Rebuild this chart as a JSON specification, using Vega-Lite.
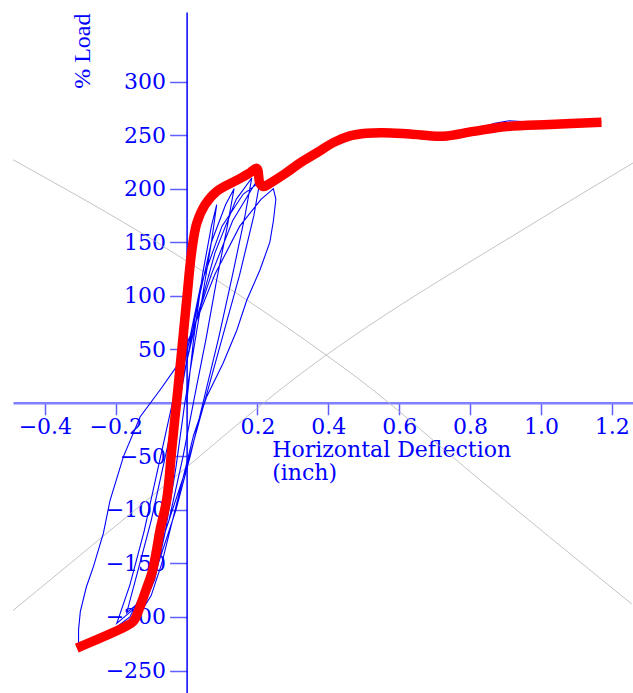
{
  "$schema": "https://vega.github.io/schema/vega-lite/v6.json",
  "width": 620,
  "height": 681,
  "autosize": {"type": "none"},
  "padding": {"left": 13, "top": 12, "right": 0, "bottom": 0},
  "background": "white",
  "config": {
    "view": {"stroke": null},
    "axis": {"grid": false}
  },
  "datasets": {
    "grey": [
      {"g": "a", "x": -0.49, "y": 227},
      {"g": "a", "x": -0.075, "y": 148},
      {"g": "a", "x": 0.32, "y": 62},
      {"g": "a", "x": 0.489, "y": 21.5},
      {"g": "a", "x": 0.828, "y": -72},
      {"g": "a", "x": 1.257, "y": -188},
      {"g": "b", "x": -0.49, "y": -194},
      {"g": "b", "x": -0.061, "y": -77},
      {"g": "b", "x": 0.3, "y": 21.5},
      {"g": "b", "x": 1.005, "y": 173},
      {"g": "b", "x": 1.26, "y": 224}
    ],
    "blue": [
      {"o": 1, "x": 0, "y": 0},
      {"o": 2, "x": 0.02, "y": 60},
      {"o": 3, "x": 0.045, "y": 120},
      {"o": 4, "x": 0.07, "y": 165},
      {"o": 5, "x": 0.085, "y": 185},
      {"o": 6, "x": 0.07, "y": 150},
      {"o": 7, "x": 0.045, "y": 100},
      {"o": 8, "x": 0.02, "y": 50},
      {"o": 9, "x": -0.005, "y": 0},
      {"o": 10, "x": -0.03, "y": -60},
      {"o": 11, "x": -0.06, "y": -120},
      {"o": 12, "x": -0.09, "y": -165},
      {"o": 13, "x": -0.112, "y": -182},
      {"o": 14, "x": -0.09, "y": -140},
      {"o": 15, "x": -0.065, "y": -90},
      {"o": 16, "x": -0.04, "y": -40},
      {"o": 17, "x": -0.01, "y": 20},
      {"o": 18, "x": 0.03, "y": 90},
      {"o": 19, "x": 0.07, "y": 150},
      {"o": 20, "x": 0.11, "y": 185},
      {"o": 21, "x": 0.134, "y": 200},
      {"o": 22, "x": 0.115, "y": 165},
      {"o": 23, "x": 0.085, "y": 115},
      {"o": 24, "x": 0.055, "y": 60},
      {"o": 25, "x": 0.025, "y": 10},
      {"o": 26, "x": -0.01, "y": -50},
      {"o": 27, "x": -0.05, "y": -110},
      {"o": 28, "x": -0.1, "y": -160},
      {"o": 29, "x": -0.14, "y": -188},
      {"o": 30, "x": -0.169, "y": -196},
      {"o": 31, "x": -0.14, "y": -160},
      {"o": 32, "x": -0.1, "y": -110},
      {"o": 33, "x": -0.06, "y": -50},
      {"o": 34, "x": -0.02, "y": 10},
      {"o": 35, "x": 0.03, "y": 80},
      {"o": 36, "x": 0.08, "y": 140},
      {"o": 37, "x": 0.14, "y": 190},
      {"o": 38, "x": 0.184, "y": 210},
      {"o": 39, "x": 0.165, "y": 175},
      {"o": 40, "x": 0.13, "y": 120},
      {"o": 41, "x": 0.09, "y": 60},
      {"o": 42, "x": 0.05, "y": 5},
      {"o": 43, "x": 0.01, "y": -50},
      {"o": 44, "x": -0.03, "y": -100},
      {"o": 45, "x": -0.08, "y": -150},
      {"o": 46, "x": -0.14, "y": -190},
      {"o": 47, "x": -0.197, "y": -206},
      {"o": 48, "x": -0.16, "y": -170},
      {"o": 49, "x": -0.12, "y": -120},
      {"o": 50, "x": -0.08, "y": -60},
      {"o": 51, "x": -0.04, "y": 0},
      {"o": 52, "x": 0.01, "y": 60},
      {"o": 53, "x": 0.07, "y": 120},
      {"o": 54, "x": 0.13, "y": 170},
      {"o": 55, "x": 0.19, "y": 203},
      {"o": 56, "x": 0.21, "y": 213},
      {"o": 57, "x": 0.19, "y": 175},
      {"o": 58, "x": 0.15, "y": 120},
      {"o": 59, "x": 0.1, "y": 60},
      {"o": 60, "x": 0.05, "y": 0},
      {"o": 61, "x": 0, "y": -60},
      {"o": 62, "x": -0.05, "y": -110},
      {"o": 63, "x": -0.1, "y": -160},
      {"o": 64, "x": -0.16, "y": -200},
      {"o": 65, "x": -0.24, "y": -220},
      {"o": 66, "x": -0.305, "y": -225},
      {"o": 67, "x": -0.305, "y": -212},
      {"o": 68, "x": -0.3, "y": -195},
      {"o": 69, "x": -0.283, "y": -172},
      {"o": 70, "x": -0.263, "y": -153},
      {"o": 71, "x": -0.235, "y": -122},
      {"o": 72, "x": -0.216, "y": -91},
      {"o": 73, "x": -0.178, "y": -50},
      {"o": 74, "x": -0.131, "y": -13},
      {"o": 75, "x": -0.075, "y": 12},
      {"o": 76, "x": -0.028, "y": 34},
      {"o": 77, "x": 0.02, "y": 70},
      {"o": 78, "x": 0.08, "y": 120},
      {"o": 79, "x": 0.15, "y": 165},
      {"o": 80, "x": 0.21, "y": 190},
      {"o": 81, "x": 0.245, "y": 200},
      {"o": 82, "x": 0.252, "y": 190},
      {"o": 83, "x": 0.245, "y": 170},
      {"o": 84, "x": 0.235, "y": 150},
      {"o": 85, "x": 0.207, "y": 124},
      {"o": 86, "x": 0.17, "y": 96},
      {"o": 87, "x": 0.142, "y": 68},
      {"o": 88, "x": 0.103, "y": 37},
      {"o": 89, "x": 0.057, "y": 6},
      {"o": 90, "x": 0.02, "y": -30},
      {"o": 91, "x": -0.01, "y": -70},
      {"o": 92, "x": -0.04, "y": -110},
      {"o": 93, "x": -0.07, "y": -150},
      {"o": 94, "x": -0.1, "y": -180},
      {"o": 95, "x": -0.13, "y": -196},
      {"o": 96, "x": -0.1, "y": -150},
      {"o": 97, "x": -0.07, "y": -100},
      {"o": 98, "x": -0.04, "y": -40},
      {"o": 99, "x": -0.01, "y": 30},
      {"o": 100, "x": 0.04, "y": 110},
      {"o": 101, "x": 0.1, "y": 165},
      {"o": 102, "x": 0.16, "y": 195},
      {"o": 103, "x": 0.21, "y": 207},
      {"o": 104, "x": 0.24, "y": 206},
      {"o": 105, "x": 0.32, "y": 224},
      {"o": 106, "x": 0.367, "y": 233.4},
      {"o": 107, "x": 0.414, "y": 243.3},
      {"o": 108, "x": 0.461, "y": 249.5},
      {"o": 109, "x": 0.508, "y": 252},
      {"o": 110, "x": 0.555, "y": 252.3},
      {"o": 111, "x": 0.63, "y": 251},
      {"o": 112, "x": 0.724, "y": 249},
      {"o": 113, "x": 0.81, "y": 254},
      {"o": 114, "x": 0.87, "y": 261},
      {"o": 115, "x": 0.91, "y": 263.5},
      {"o": 116, "x": 0.96, "y": 262.5},
      {"o": 117, "x": 1.025, "y": 260.5},
      {"o": 118, "x": 1.171, "y": 262}
    ],
    "red": [
      {"x": -0.31, "y": -229},
      {"x": -0.173, "y": -209},
      {"x": -0.15, "y": -204},
      {"x": -0.131, "y": -190},
      {"x": -0.115, "y": -175},
      {"x": -0.098, "y": -159},
      {"x": -0.085, "y": -138},
      {"x": -0.075, "y": -119},
      {"x": -0.056, "y": -90},
      {"x": -0.041, "y": -40},
      {"x": -0.0254, "y": 10},
      {"x": -0.0104, "y": 60},
      {"x": 0.0014, "y": 100},
      {"x": 0.015, "y": 143},
      {"x": 0.029, "y": 168},
      {"x": 0.052, "y": 185},
      {"x": 0.085, "y": 197.5},
      {"x": 0.142, "y": 208},
      {"x": 0.175, "y": 214},
      {"x": 0.198, "y": 219},
      {"x": 0.207, "y": 205},
      {"x": 0.217, "y": 202},
      {"x": 0.235, "y": 205},
      {"x": 0.28, "y": 214.5},
      {"x": 0.32, "y": 224},
      {"x": 0.367, "y": 233.4},
      {"x": 0.414, "y": 243},
      {"x": 0.461, "y": 249.3},
      {"x": 0.508, "y": 251.8},
      {"x": 0.555, "y": 252.3},
      {"x": 0.63, "y": 251},
      {"x": 0.724, "y": 249},
      {"x": 0.81, "y": 253.5},
      {"x": 0.903, "y": 258},
      {"x": 1.025, "y": 260},
      {"x": 1.171, "y": 262}
    ]
  },
  "layer": [
    {
      "data": {"name": "grey"},
      "mark": {"type": "line", "color": "#b4b4b4", "strokeWidth": 0.8, "interpolate": "monotone"},
      "encoding": {
        "x": {
          "field": "x", "type": "quantitative",
          "scale": {"domain": [-0.49, 1.26], "nice": false, "zero": false},
          "axis": {
            "orient": "bottom",
            "offset": -290.2,
            "values": [-0.4, -0.2, 0.2, 0.4, 0.6, 0.8, 1.0, 1.2],
            "format": ".1f",
            "domainColor": "#7f7fff",
            "domainWidth": 2.5,
            "tickColor": "#5c5cff",
            "tickWidth": 1.5,
            "tickSize": 12,
            "labelFont": "DejaVu Serif",
            "labelFontSize": 22,
            "labelColor": "#0000ff",
            "labelPadding": 2,
            "labelFlush": false,
            "labelOverlap": false,
            "title": ["Horizontal Deflection", "(inch)"],
            "titleFont": "DejaVu Serif",
            "titleFontSize": 22,
            "titleFontWeight": "normal",
            "titleColor": "#0000ff",
            "titleAlign": "left",
            "titleAnchor": "start",
            "titleBaseline": "alphabetic",
            "titleX": 258.7,
            "titleY": 54,
            "titleLineHeight": 23
          }
        },
        "y": {
          "field": "y", "type": "quantitative",
          "scale": {"domain": [-271, 365], "nice": false, "zero": false},
          "axis": {
            "orient": "left",
            "offset": -173.6,
            "values": [-250, -200, -150, -100, -50, 50, 100, 150, 200, 250, 300],
            "format": "d",
            "domainColor": "#0000ff",
            "domainWidth": 1.5,
            "tickColor": "#6060ff",
            "tickWidth": 1.5,
            "tickSize": 17,
            "labelFont": "DejaVu Serif",
            "labelFontSize": 22,
            "labelColor": "#0000ff",
            "labelPadding": 4,
            "labelFlush": false,
            "labelOverlap": false,
            "title": "% Load",
            "titleFont": "Liberation Serif",
            "titleFontSize": 24,
            "titleFontWeight": "normal",
            "titleColor": "#0000ff",
            "titleAngle": 270,
            "titleAlign": "right",
            "titleAnchor": "end",
            "titleBaseline": "alphabetic",
            "titleX": -97,
            "titleY": 1
          }
        },
        "detail": {"field": "g"}
      }
    },
    {
      "data": {"name": "blue"},
      "mark": {"type": "line", "color": "#0000ff", "strokeWidth": 1.1, "interpolate": "linear"},
      "encoding": {
        "x": {"field": "x", "type": "quantitative"},
        "y": {"field": "y", "type": "quantitative"},
        "order": {"field": "o", "type": "quantitative"}
      }
    },
    {
      "data": {"name": "red"},
      "mark": {"type": "line", "color": "#ff0000", "strokeWidth": 9.5, "strokeCap": "butt", "strokeJoin": "round", "interpolate": "catmull-rom"},
      "encoding": {
        "x": {"field": "x", "type": "quantitative"},
        "y": {"field": "y", "type": "quantitative"}
      }
    }
  ]
}
